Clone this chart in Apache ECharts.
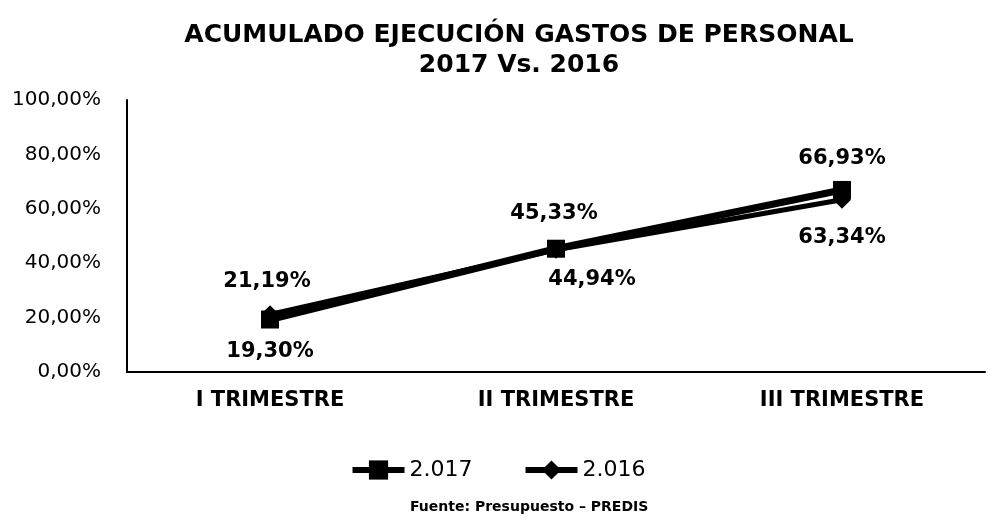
<!DOCTYPE html>
<html>
<head>
<meta charset="utf-8">
<script src="https://cdn.jsdelivr.net/npm/echarts@6/dist/echarts.min.js"></script>
<style>
  html, body { margin: 0; padding: 0; background: #fff; }
  #chart { width: 995px; height: 522px; }
</style>
</head>
<body>
<div id="chart"></div>
<script>
// datos
var trimestres = ['I TRIMESTRE', 'II TRIMESTRE', 'III TRIMESTRE'];
var serie2017 = [19.30, 45.33, 66.93];
var serie2016 = [21.19, 44.94, 63.34];
var pos2017 = ['bottom', 'top', 'top'];
var pos2016 = ['top', 'bottom', 'bottom'];
var off2017 = [[0, -1], [-2, -2], [0, 2]];
var off2016 = [[-3, 1], [36, -4], [0, 4]];

var fuente = 'DejaVu Sans, Liberation Sans, sans-serif';

function fmt(v) {
  return v.toFixed(2).replace('.', ',') + '%';
}

function puntos(valores, posiciones, offsets) {
  return valores.map(function (v, i) {
    return {
      value: v,
      label: { position: posiciones[i], offset: offsets[i] }
    };
  });
}

var etiqueta = {
  show: true,
  fontFamily: fuente,
  fontSize: 21,
  fontWeight: 'bold',
  color: '#000',
  distance: 14,
  formatter: function (p) { return fmt(p.value); }
};

var chart = echarts.init(document.getElementById('chart'));
chart.setOption({
  animation: false,
  title: {
    text: 'ACUMULADO EJECUCIÓN GASTOS DE PERSONAL\n2017 Vs. 2016',
    left: 514,
    textAlign: 'center',
    top: 15,
    textStyle: { fontFamily: fuente, fontSize: 25, fontWeight: 'bold', color: '#000', lineHeight: 30 }
  },
  legend: {
    top: 454,
    left: 'center',
    itemWidth: 52,
    itemHeight: 24,
    itemGap: 50,
    lineStyle: { width: 6 },
    textStyle: { fontFamily: fuente, fontSize: 22, color: '#000' },
    data: ['2.017', '2.016']
  },
  graphic: [{
    type: 'text',
    left: 410,
    top: 500,
    style: { text: 'Fuente: Presupuesto – PREDIS', font: 'bold 14px ' + fuente, fill: '#000' }
  }],
  grid: { left: 127, right: 10, top: 100, bottom: 150 },
  xAxis: {
    type: 'category',
    data: trimestres,
    axisLine: { lineStyle: { color: '#000', width: 2 } },
    axisTick: { show: false },
    axisLabel: { fontFamily: fuente, fontSize: 21, fontWeight: 'bold', color: '#000', margin: 18 }
  },
  yAxis: {
    type: 'value',
    min: 0,
    max: 100,
    interval: 20,
    axisLine: { show: true, lineStyle: { color: '#000', width: 2 } },
    axisTick: { show: false },
    splitLine: { show: false },
    axisLabel: {
      fontFamily: fuente, fontSize: 20, color: '#000', margin: 26,
      formatter: function (v) { return v.toFixed(2).replace('.', ',') + '%'; }
    }
  },
  series: [
    {
      name: '2.017',
      type: 'line',
      data: puntos(serie2017, pos2017, off2017),
      symbol: 'rect',
      symbolSize: 18,
      lineStyle: { color: '#000', width: 7 },
      itemStyle: { color: '#000' },
      label: etiqueta,
      z: 3
    },
    {
      name: '2.016',
      type: 'line',
      data: puntos(serie2016, pos2016, off2016),
      symbol: 'diamond',
      symbolSize: 18,
      lineStyle: { color: '#000', width: 5 },
      itemStyle: { color: '#000' },
      label: etiqueta,
      z: 2
    }
  ]
});
</script>
</body>
</html>
